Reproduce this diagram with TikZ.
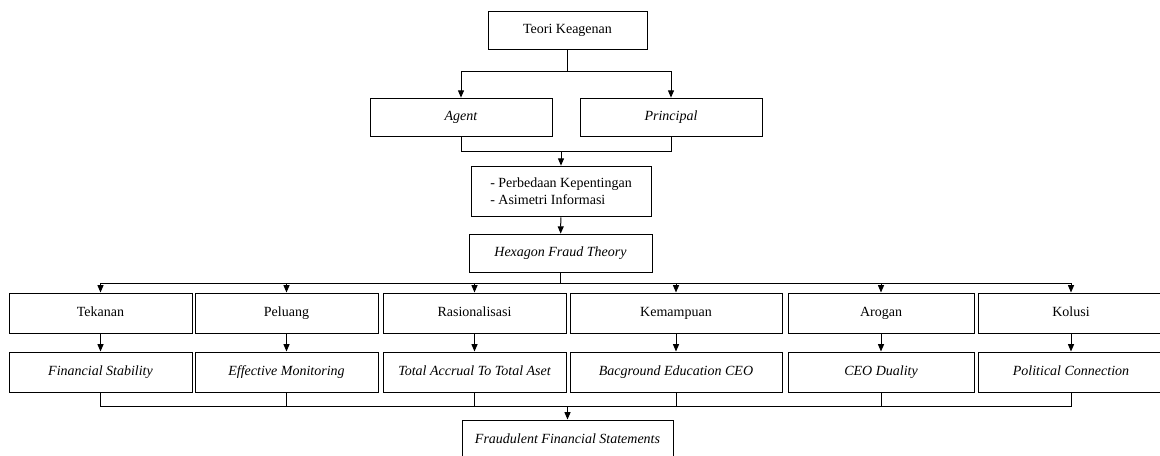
\documentclass[tikz,border=0pt]{standalone}
\usepackage{fontspec}
\setmainfont{Liberation Serif}
\usetikzlibrary{arrows.meta, positioning, calc}
\tikzset{
  every picture/.style={line width=0.75pt},
  box/.style={draw=black, align=center, inner sep=2pt, text height=7.5pt, text depth=2.5pt, minimum width=#1*0.75pt, minimum height=30pt},
  box/.default=183,
  arrow/.style={-{Triangle[length=5.5pt, width=4.5pt]}, draw=black},
  link/.style={draw=black},
}

\begin{document}
\begin{tikzpicture}[every node/.append style={font=\fontsize{10.5}{13}\selectfont}, x=0.75pt, y=-0.75pt]
  \useasboundingbox (0,0) rectangle (1160,456);
  \clip (0,0) rectangle (1160,456);
  % ---------- agency theory ----------
  \node[box=159, minimum height=29pt] (teori) at (567.5,30.5) {Teori Keagenan};
  \node[box=182, minimum height=29pt] (agent) at (461,117.5) {\itshape Agent};
  \node[box=182, minimum height=29pt] (principal) at (671,117.5) {\itshape Principal};
  \node[box=180, minimum height=38pt, align=left, text height=, text depth=] (beda) at (561,191.5) {- Perbedaan Kepentingan\\- Asimetri Informasi};
  \node[box=183, minimum height=29pt] (hexa) at (560.5,253.5) {\itshape Hexagon Fraud Theory};
  \coordinate (split1) at (567.5,72);
  \coordinate (join1) at (561,152);
  \draw[link] (teori) -- (split1);
  \draw[arrow] (split1) -| (agent);
  \draw[arrow] (split1) -| (principal);
  \draw[link] (agent) |- (join1);
  \draw[link] (principal) |- (join1);
  \draw[arrow] (join1) -- (beda);
  \draw[arrow] (beda) -- (hexa);
  % ---------- six elements ----------
  \coordinate (split2) at (560.5,283);
  \coordinate (join2) at (567.5,406);
  \foreach \name/\cx/\w/\elem/\proxy in {
      t1/100.5/183/Tekanan/Financial Stability,
      t2/286.5/183/Peluang/Effective Monitoring,
      t3/474.5/183/Rasionalisasi/Total Accrual To Total Aset,
      t4/676/212/Kemampuan/Bacground Education CEO,
      t5/881/186/Arogan/CEO Duality,
      t6/1071/186/Kolusi/Political Connection} {
    \node[box=\w] (\name) at (\cx,313) {\elem};
    \node[box=\w] (\name p) at (\cx,372) {\itshape \proxy};
    \draw[arrow] (split2) -| (\name);
    \draw[arrow] (\name) -- (\name p);
    \draw[link] (\name p) |- (join2);
  }
  \draw[link] (hexa) -- (split2);
  \node[box=211] (fraud) at (567.5,440) {\itshape Fraudulent Financial Statements};
  \draw[arrow] (join2) -- (fraud);
\end{tikzpicture}
\end{document}
